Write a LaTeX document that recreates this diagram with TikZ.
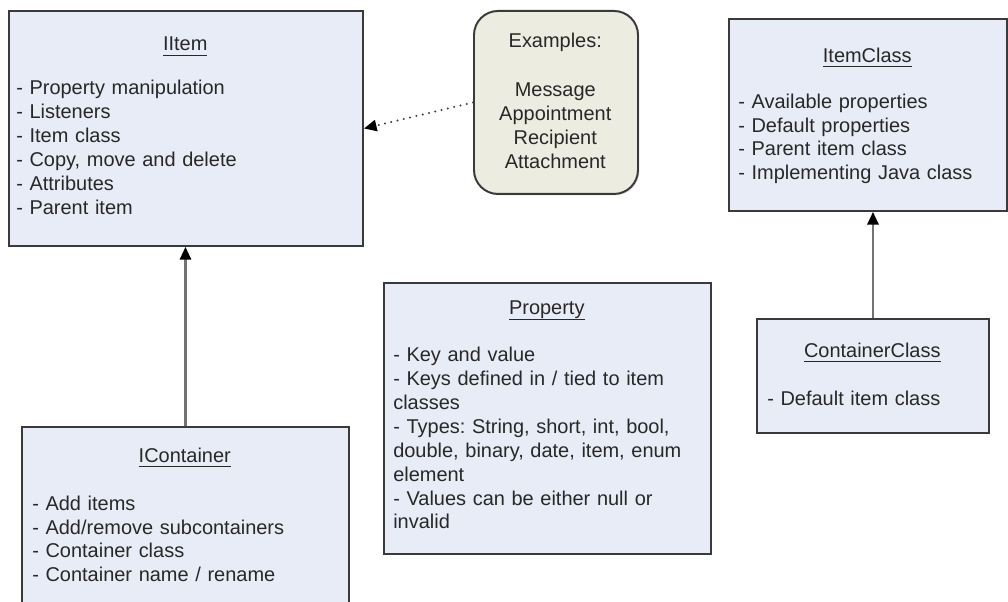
\documentclass[tikz,border=0pt]{standalone}
\usepackage{fontspec}
\setmainfont{Liberation Sans}
\usetikzlibrary{arrows.meta,
                shadows}

\definecolor{clsfill}{RGB}{232,236,247}
\definecolor{notefill}{RGB}{236,236,224}
\definecolor{clsline}{RGB}{58,58,58}
\definecolor{clstext}{RGB}{40,40,40}

\frenchspacing

% centred, underlined class name
\newcommand{\clstitle}[1]{\noindent\makebox[\hsize][c]{\setbox0\hbox{#1}\rlap{\rule[-3.5pt]{\wd0}{0.8pt}}\box0}}

\tikzset{
  cls/.style={draw=clsline, line width=1.4pt, fill=clsfill, anchor=north west, inner sep=0pt,
              drop shadow={opacity=0.25, shadow xshift=1pt, shadow yshift=-1pt}},
  note/.style={cls, fill=notefill, rounded corners=0.6cm},
  clstxt/.style={anchor=north west, inner sep=0pt, align=left, text=clstext,
                 font=\fontsize{14.2pt}{17pt}\selectfont},
  inherit/.style={draw=black!55, line width=1.5pt, -{Triangle[length=9pt,width=8pt,color=black]}},
  depend/.style={draw=black!75, line width=1.6pt, line cap=round, dash pattern=on 0pt off 4.6pt,
                 -{Triangle[length=9pt,width=8pt,color=black]}}
}

\begin{document}
\begin{tikzpicture}
\clip (0,0) rectangle (25.2,-15.05);

% boxes
\node (iitem) [cls, minimum width=8.85cm, minimum height=5.875cm] at (0.2,-0.25) {};
\node (examples) [note, minimum width=4.1cm, minimum height=4.575cm] at (11.825,-0.25) {};
\node (icls) [cls, minimum width=6.95cm, minimum height=4.8cm] at (18.2,-0.45) {};
\node (prop) [cls, minimum width=8.175cm, minimum height=6.775cm] at (9.575,-7.05) {};
\node (ccls) [cls, minimum width=5.8cm, minimum height=2.85cm] at (18.9,-7.95) {};
\node (icont) [cls, minimum width=8.175cm, minimum height=5cm] at (0.525,-10.65) {};

% texts
\node (iitem-txt) [clstxt, text width=8.45cm] at ([shift={(0.2cm,-0.67cm)}]iitem.north west)
  {\clstitle{IItem}\\[14.2pt]
   - Property manipulation\\
   - Listeners\\
   - Item class\\
   - Copy, move and delete\\
   - Attributes\\
   - Parent item};
\node (examples-txt) [clstxt, align=center, text width=3.8cm] at ([shift={(0.15cm,-0.57cm)}]examples.north west)
  {Examples:\\[17.7pt]
   Message\\
   Appointment\\
   Recipient\\
   Attachment};
\node (icls-txt) [clstxt, text width=6.45cm] at ([shift={(0.25cm,-0.74cm)}]icls.north west)
  {\clstitle{ItemClass}\\[15.6pt]
   - Available properties\\
   - Default properties\\
   - Parent item class\\
   - Implementing Java class};
\node (prop-txt) [clstxt, text width=7.675cm] at ([shift={(0.25cm,-0.47cm)}]prop.north west)
  {\clstitle{Property}\\[16.3pt]
   - Key and value\\
   - Keys defined in / tied to item\\
   classes\\
   - Types: String, short, int, bool,\\
   double, binary, date, item, enum\\
   element\\
   - Values can be either null or\\
   invalid};
\node (ccls-txt) [clstxt, text width=5.25cm] at ([shift={(0.275cm,-0.62cm)}]ccls.north west)
  {\clstitle{ContainerClass}\\[17pt]
   - Default item class};
\node (icont-txt) [clstxt, text width=7.625cm] at ([shift={(0.275cm,-0.54cm)}]icont.north west)
  {\clstitle{IContainer}\\[17pt]
   - Add items\\
   - Add/remove subcontainers\\
   - Container class\\
   - Container name / rename};

% connectors
\draw[inherit] (icont.north) -- (icont.north |- iitem.south);
\draw[inherit] (ccls.north) -- (ccls.north |- icls.south);
\draw[depend] (examples.west) -- (iitem.east);
\end{tikzpicture}
\end{document}
